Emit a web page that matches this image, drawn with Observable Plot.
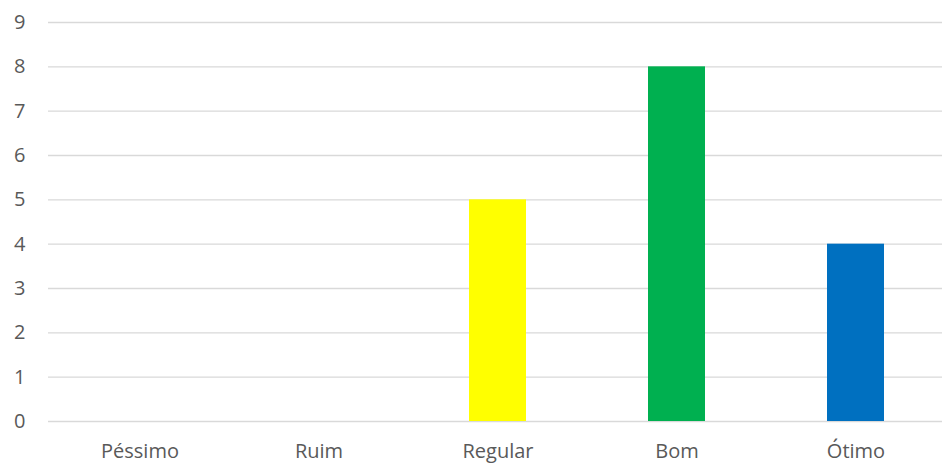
<!DOCTYPE html>
<html>
<head>
<meta charset="utf-8">
<script src="https://cdn.jsdelivr.net/npm/d3@7"></script>
<script src="https://cdn.jsdelivr.net/npm/@observablehq/plot@0.6"></script>
<style>
  html, body { margin: 0; padding: 0; background: #fff; }
  #chart svg { display: block; }
</style>
</head>
<body>
<div id="chart"></div>
<script>
const categories = ["Péssimo", "Ruim", "Regular", "Bom", "Ótimo"];
const values = [0, 0, 5, 8, 4];
const barColors = ["#FFFF00", "#FFFF00", "#FFFF00", "#00B050", "#0070C0"];
const yTicks = [0, 1, 2, 3, 4, 5, 6, 7, 8, 9];

const data = categories.map((c, i) => ({category: c, value: values[i], color: barColors[i]}));

const chart = Plot.plot({
  width: 942,
  height: 463,
  marginLeft: 48,
  marginRight: 0,
  marginTop: 22,
  marginBottom: 42,
  style: {fontFamily: "'Open Sans', sans-serif", fontSize: "20px", color: "#595959", background: "#fff"},
  x: {domain: categories, range: [48.5, 946], paddingInner: 0.68, paddingOuter: 0.34, label: null},
  y: {domain: [0, 9], label: null},
  marks: [
    Plot.ruleY(yTicks, {stroke: "#d9d9d9", strokeWidth: 1.4}),
    Plot.barY(data.filter(d => d.value > 0), {x: "category", y: "value", fill: "color"}),
    Plot.axisY({ticks: yTicks, tickSize: 0, tickPadding: 23, tickFormat: d => d, fill: "#595959", label: null}),
    Plot.axisX({tickSize: 0, tickPadding: 22, fill: "#595959", label: null})
  ]
});
document.getElementById("chart").appendChild(chart);
</script>
</body>
</html>
